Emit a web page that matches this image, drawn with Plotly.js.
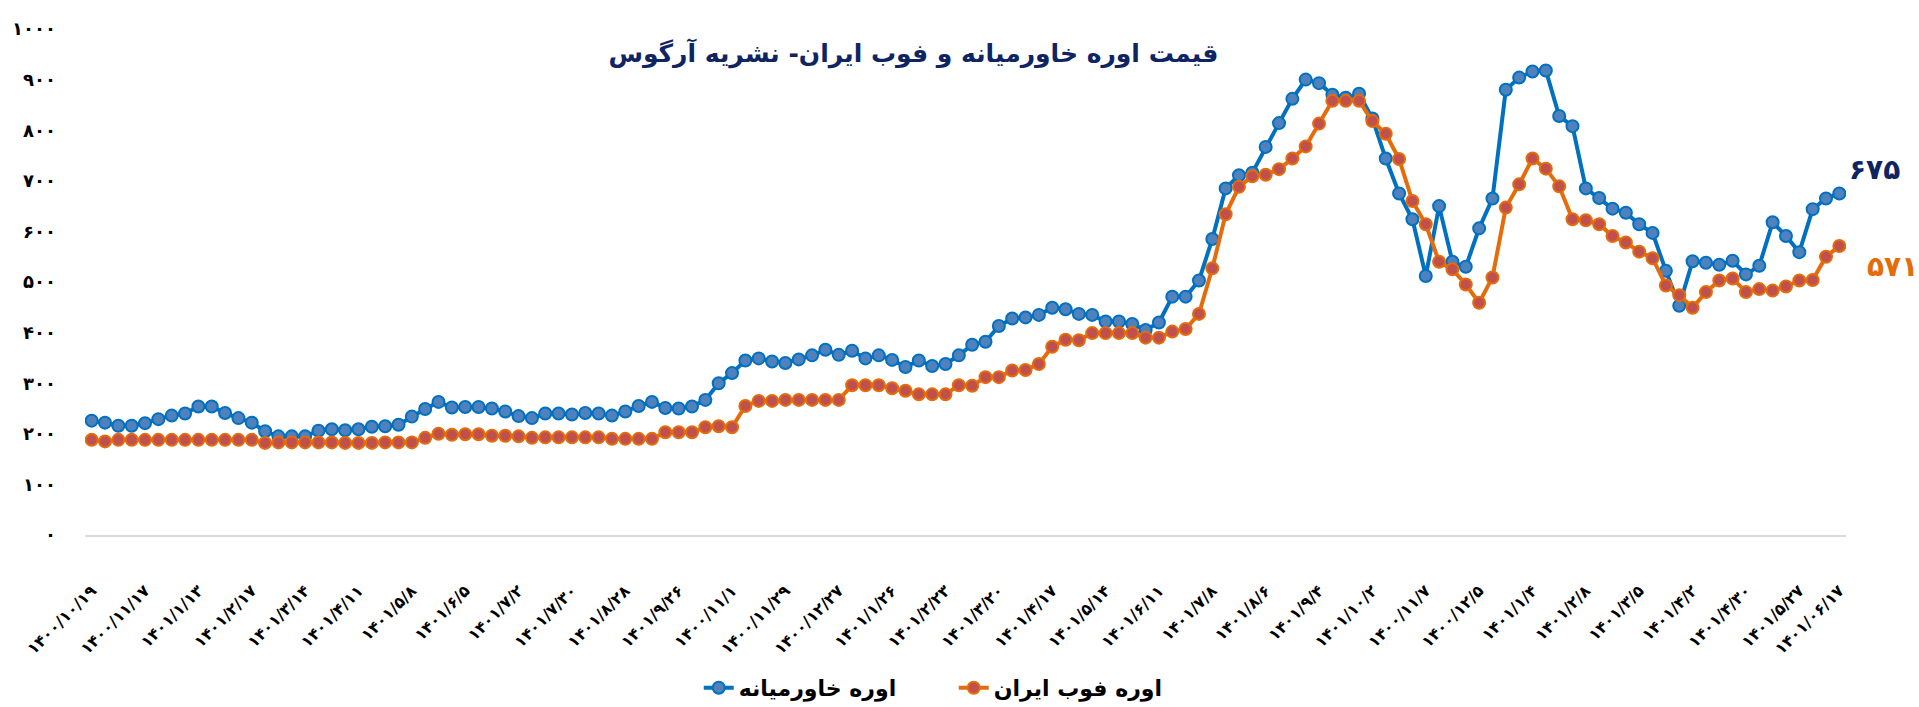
<!DOCTYPE html>
<html>
<head>
<meta charset="utf-8">
<script src="https://cdn.plot.ly/plotly-3.0.1.min.js"></script>
<style>html,body{margin:0;padding:0;background:#fff;}#chart{width:1919px;height:707px;}</style>
</head>
<body>
<div id="chart"></div>
<script>
const titleText = 'قیمت اوره خاورمیانه و فوب ایران- نشریه آرگوس';
const seriesNames = ['اوره خاورمیانه', 'اوره فوب ایران'];

// week index of each observation (132 weekly points)
const weekIndex = Array.from({length: 132}, (_, i) => i);

const middleEast = [226,222,216,216,221,229,236,240,254,254,241,231,222,205,195,195,195,206,209,207,
  209,214,215,218,234,249,263,252,253,253,250,244,235,231,240,240,238,241,240,236,
  244,255,263,251,250,254,267,300,320,345,349,343,340,347,355,366,356,364,349,355,
  346,332,345,334,338,355,376,382,413,428,430,435,449,446,437,435,422,422,417,405,
  420,471,471,503,585,685,711,716,767,814,862,900,893,870,864,872,823,744,675,624,
  512,650,540,530,606,665,880,904,916,918,828,808,685,666,645,637,614,597,522,453,
  541,538,534,542,515,532,618,591,559,644,665,675];

const iranFob = [188,185,188,188,188,188,188,188,188,188,188,188,188,182,183,183,183,183,183,182,
  182,182,183,183,183,192,200,198,199,199,196,196,195,192,193,193,193,193,193,190,
  190,190,190,203,203,203,213,215,213,255,265,265,267,267,267,267,267,296,296,296,
  290,285,278,278,278,296,295,312,312,325,326,338,372,386,385,399,399,399,399,390,
  390,402,407,437,527,634,688,709,712,723,744,768,813,858,858,858,818,793,743,660,
  614,540,525,495,459,509,647,693,744,724,689,624,622,614,591,578,560,547,493,474,
  449,480,503,507,480,486,483,491,503,504,550,571];

const xTickIdx = [0,4,8,12,16,20,24,28,32,36,40,44,48,52,56,60,64,68,72,76,80,84,88,92,96,100,104,108,112,116,120,124,128,131];
const xTickLabels = ['۱۴۰۰/۱۰/۱۹','۱۴۰۰/۱۱/۱۷','۱۴۰۱/۱/۱۳','۱۴۰۱/۲/۱۷','۱۴۰۱/۳/۱۴','۱۴۰۱/۴/۱۱','۱۴۰۱/۵/۸','۱۴۰۱/۶/۵',
  '۱۴۰۱/۷/۲','۱۴۰۱/۷/۳۰','۱۴۰۱/۸/۲۸','۱۴۰۱/۹/۲۶','۱۴۰۰/۱۱/۱','۱۴۰۰/۱۱/۲۹','۱۴۰۰/۱۲/۲۷','۱۴۰۱/۱/۲۶','۱۴۰۱/۲/۲۳',
  '۱۴۰۱/۳/۲۰','۱۴۰۱/۴/۱۷','۱۴۰۱/۵/۱۴','۱۴۰۱/۶/۱۱','۱۴۰۱/۷/۸','۱۴۰۱/۸/۶','۱۴۰۱/۹/۴','۱۴۰۱/۱۰/۲','۱۴۰۰/۱۱/۷',
  '۱۴۰۰/۱۲/۵','۱۴۰۱/۱/۴','۱۴۰۱/۲/۸','۱۴۰۱/۳/۵','۱۴۰۱/۴/۲','۱۴۰۱/۴/۳۰','۱۴۰۱/۵/۲۷','۱۴۰۱/۰۶/۱۷'];

const yTickVals = [0,100,200,300,400,500,600,700,800,900,1000];
const yTickLabels = ['۰','۱۰۰','۲۰۰','۳۰۰','۴۰۰','۵۰۰','۶۰۰','۷۰۰','۸۰۰','۹۰۰','۱۰۰۰'];

const faDigits = '۰۱۲۳۴۵۶۷۸۹';
const toFa = n => String(n).replace(/\d/g, d => faDigits[+d]);

const FONT = 'DejaVu Sans, sans-serif';
const last = weekIndex.length - 1;

const traces = [
  {
    x: weekIndex, y: middleEast, name: seriesNames[0], type: 'scatter', mode: 'lines+markers',
    line: {color: '#0070C0', width: 4},
    marker: {size: 12, color: '#4F81BD', line: {color: '#0070C0', width: 2}}
  },
  {
    x: weekIndex, y: iranFob, name: seriesNames[1], type: 'scatter', mode: 'lines+markers',
    line: {color: '#E46C0A', width: 4},
    marker: {size: 12, color: '#C0504D', line: {color: '#E46C0A', width: 2}}
  }
];

const layout = {
  width: 1919, height: 707,
  paper_bgcolor: '#fff', plot_bgcolor: '#fff',
  margin: {l: 85, r: 73, t: 28.5, b: 171.5, pad: 0, autoexpand: false},
  title: {
    text: titleText, x: 0.476, xref: 'container', xanchor: 'center',
    y: 0.925, yref: 'container', yanchor: 'middle',
    font: {family: FONT, size: 25, color: '#0E2463', weight: 700}
  },
  showlegend: true,
  legend: {
    orientation: 'h', x: 0.497, xref: 'container', xanchor: 'center',
    y: 0.027, yref: 'container', yanchor: 'middle',
    font: {family: FONT, size: 22, color: '#000', weight: 700},
    traceorder: 'normal', entrywidth: 210, entrywidthmode: 'pixels'
  },
  xaxis: {
    range: [-0.5, last + 0.5], tickmode: 'array', tickvals: xTickIdx, ticktext: xTickLabels,
    tickangle: -45, ticks: '', showgrid: false, zeroline: false, automargin: false,
    showline: true, linecolor: '#D9D9D9', linewidth: 2,
    tickfont: {family: FONT, size: 16, color: '#000', weight: 700},
    ticklabelstandoff: 38, fixedrange: true
  },
  yaxis: {
    range: [0, 1000], tickmode: 'array', tickvals: yTickVals, ticktext: yTickLabels,
    ticks: '', showgrid: false, zeroline: false, showline: false, automargin: false,
    tickfont: {family: FONT, size: 18, color: '#000', weight: 700},
    ticklabelstandoff: 28, fixedrange: true
  },
  annotations: [
    {x: last, y: middleEast[last], xref: 'x', yref: 'y', text: toFa(middleEast[last]), showarrow: false,
     xanchor: 'left', yanchor: 'middle', xshift: 8, yshift: 24,
     font: {family: FONT, size: 28, color: '#0E2463', weight: 700}},
    {x: last, y: iranFob[last], xref: 'x', yref: 'y', text: toFa(iranFob[last]), showarrow: false,
     xanchor: 'left', yanchor: 'middle', xshift: 26, yshift: -20,
     font: {family: FONT, size: 28, color: '#E46C0A', weight: 700}}
  ]
};

Plotly.newPlot('chart', traces, layout, {displayModeBar: false, staticPlot: true});
</script>
</body>
</html>
